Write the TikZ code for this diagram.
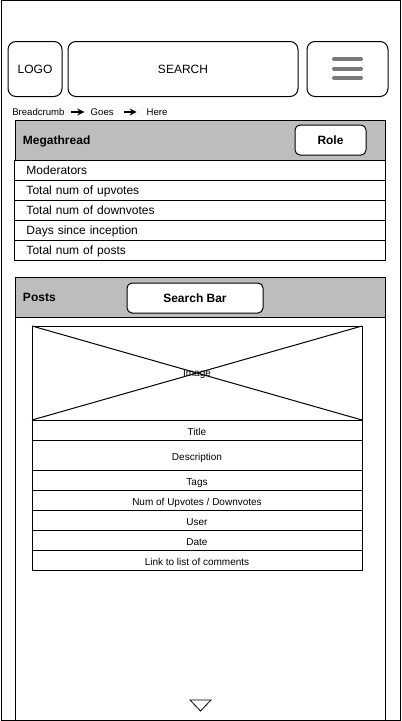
\documentclass[tikz,border=0pt]{standalone}
\usepackage{fontspec}
\setmainfont{Liberation Sans}
\usetikzlibrary{arrows.meta}
\usetikzlibrary{positioning}
\definecolor{hdrgray}{HTML}{BDBDBD}
\definecolor{menugray}{HTML}{7A7A7A}

\begin{document}
\begin{tikzpicture}[x=1pt,y=-1pt,line width=1pt,
        every node/.style={inner sep=0pt,outer sep=0pt},
        txtbig/.style={font=\fontsize{12}{14}\selectfont,text height=9.6pt,text depth=1pt},
        txtsmall/.style={font=\fontsize{10}{12}\selectfont,text height=11pt,text depth=0.4pt},
        txtcrumb/.style={font=\fontsize{9.6}{11}\selectfont,anchor=west},
        topbox/.style={draw,rounded corners=8pt,txtbig,minimum height=55pt},
        btnbox/.style={draw,fill=white,rounded corners=5pt,txtbig,font=\fontsize{12}{14}\selectfont\bfseries,minimum height=30pt},
        hdrbox/.style={draw,fill=hdrgray,txtbig,font=\fontsize{12}{14}\selectfont\bfseries,minimum height=40pt,
            text width=354pt,inner xsep=8pt,align=left,anchor=north west},
        rowbox/.style={draw,txtbig,minimum height=20pt,text width=347pt,inner xsep=12pt,align=left,below=0pt of #1},
        cardrow/.style={draw,txtsmall,minimum width=330pt,minimum height=20pt,below=0pt of #1},
        crumbarrow/.style={-{Stealth[length=7pt,width=7pt]},line width=1.4pt}]
    \useasboundingbox (0,0) rectangle (402,721);
    \draw (1,0.5) rectangle (400,720.5);
    % top bar
    \node[topbox,minimum width=54pt] (logo) at (35,69) {LOGO};
    \node[topbox,minimum width=230pt,right=6pt of logo] (search) {SEARCH};
    \node[topbox,minimum width=81pt,right=9pt of search] (menu) {};
    \foreach \dy in {-10,-0.5,9}
        \draw[menugray,line width=4pt,line cap=round] ([shift={(-13.5,\dy)}]menu.center) -- ++(27,0);
    % breadcrumb
    \node[txtcrumb] (crumb) at (12.3,112) {Breadcrumb};
    \node[txtcrumb] (goes) at (90.7,112) {Goes};
    \node[txtcrumb] (here) at (146.7,112) {Here};
    \draw[crumbarrow,shorten <=6pt,shorten >=6.4pt] (crumb) -- (goes);
    \draw[crumbarrow,shorten <=10pt,shorten >=10pt] (goes) -- (here);
    % megathread
    \node[hdrbox] (mega) at (15,120) {Megathread};
    \node[btnbox,minimum width=71pt] (role) at (330.5,140) {Role};
    \node[rowbox=mega] (mods) {Moderators};
    \node[rowbox=mods] (upvotes) {Total num of upvotes};
    \node[rowbox=upvotes] (downvotes) {Total num of downvotes};
    \node[rowbox=downvotes] (days) {Days since inception};
    \node[rowbox=days] (numposts) {Total num of posts};
    % posts
    \node[hdrbox] (posts) at (15,277) {Posts};
    \node[draw,minimum width=370pt,minimum height=403pt,below=0pt of posts] (postsbody) {};
    \node[btnbox,minimum width=136pt] (searchbar) at (195,298) {Search Bar};
    \node[draw,txtsmall,text height=8pt,text depth=0.8pt,minimum width=330pt,minimum height=94pt,anchor=north west] (img) at (32,326) {Image};
    \draw (img.north west) -- (img.south east)
          (img.south west) -- (img.north east);
    \node[cardrow=img] (title) {Title};
    \node[cardrow=title,minimum height=30pt] (desc) {Description};
    \node[cardrow=desc] (tags) {Tags};
    \node[cardrow=tags] (votes) {Num of Upvotes / Downvotes};
    \node[cardrow=votes] (user) {User};
    \node[cardrow=user] (date) {Date};
    \node[cardrow=date] (comments) {Link to list of comments};
    \draw[line width=0.8pt,fill=white] (190,700) -- (211,700) -- (200.5,711) -- cycle;
\end{tikzpicture}
\end{document}
